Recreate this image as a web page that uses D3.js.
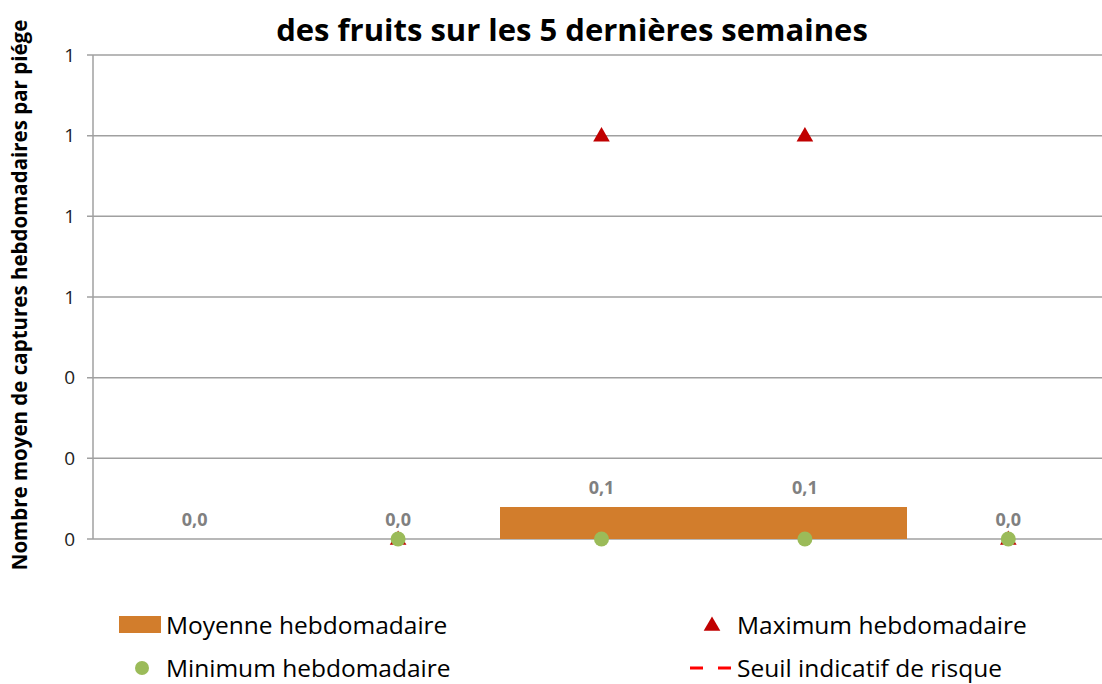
<!DOCTYPE html>
<html>
<head>
<meta charset="utf-8">
<script src="https://cdn.jsdelivr.net/npm/d3@7"></script>
<style>
  body { margin: 0; background: #fff; }
  text { font-family: "Open Sans", "DejaVu Sans", sans-serif; }
</style>
</head>
<body>
<div id="chart"></div>
<script>
// data
var semaines = ["S1", "S2", "S3", "S4", "S5"];
var moyenne = [0, 0, 0.08, 0.08, 0];
var maximum = [null, 0, 1, 1, 0];
var minimum = [null, 0, 0, 0, 0];
var seuil = [null, null, null, null, null];
var yTicks = [0, 0.2, 0.4, 0.6, 0.8, 1.0, 1.2];

var width = 1102;
var height = 684;

var svg = d3.select("#chart")
    .append("svg")
    .attr("width", width)
    .attr("height", height);

var x = d3.scaleBand()
    .domain(semaines)
    .range([93, 1110])
    .padding(0);

var y = d3.scaleLinear()
    .domain([0, 1.2])
    .range([539, 55]);

var fr = d3.formatLocale({decimal: ",", thousands: " ", grouping: [3], currency: ["", "€"]});
var fmt1 = fr.format(".1f");
var fmt0 = fr.format(".0f");

// gridlines
svg.append("g")
    .selectAll("line")
    .data(yTicks)
    .enter()
    .append("line")
    .attr("x1", 87)
    .attr("x2", width)
    .attr("y1", function (d) { return y(d); })
    .attr("y2", function (d) { return y(d); })
    .style("stroke", "#a0a0a0")
    .style("stroke-width", "1.5px");

// y axis line
svg.append("line")
    .attr("x1", 93).attr("x2", 93)
    .attr("y1", y(1.2)).attr("y2", y(0))
    .style("stroke", "#a0a0a0")
    .style("stroke-width", "1.5px");

// tick labels
svg.append("g")
    .selectAll("text")
    .data(yTicks)
    .enter()
    .append("text")
    .attr("x", 75)
    .attr("y", function (d) { return y(d); })
    .attr("dy", "0.35em")
    .attr("text-anchor", "end")
    .attr("font-size", "19px")
    .attr("fill", "#222")
    .text(function (d) { return fmt0(d); });

// bars
svg.append("g")
    .selectAll("rect")
    .data(moyenne)
    .enter()
    .append("rect")
    .attr("x", function (d, i) { return x(semaines[i]); })
    .attr("width", x.bandwidth() + 0.5)
    .attr("y", function (d) { return y(d); })
    .attr("height", function (d) { return y(0) - y(d); })
    .attr("shape-rendering", "crispEdges")
    .style("fill", "#d27d2c");

// bar labels
svg.append("g")
    .selectAll("text")
    .data(moyenne)
    .enter()
    .append("text")
    .attr("x", function (d, i) { return x(semaines[i]) + x.bandwidth() / 2; })
    .attr("y", function (d) { return y(d) - 13; })
    .attr("text-anchor", "middle")
    .attr("font-size", "18px")
    .attr("font-weight", 700)
    .attr("fill", "#808080")
    .text(function (d) { return fmt1(d); });

// max triangles
var tri = d3.symbol().type(d3.symbolTriangle).size(120);
svg.append("g")
    .selectAll("path")
    .data(maximum.map(function (d, i) { return {v: d, k: semaines[i]}; })
        .filter(function (d) { return d.v !== null; }))
    .enter()
    .append("path")
    .attr("d", tri)
    .attr("transform", function (d) {
        return "translate(" + (x(d.k) + x.bandwidth() / 2) + "," + (y(d.v) + 1) + ")";
    })
    .style("fill", "#c00000");

// min dots
svg.append("g")
    .selectAll("circle")
    .data(minimum.map(function (d, i) { return {v: d, k: semaines[i]}; })
        .filter(function (d) { return d.v !== null; }))
    .enter()
    .append("circle")
    .attr("cx", function (d) { return x(d.k) + x.bandwidth() / 2; })
    .attr("cy", function (d) { return y(d.v); })
    .attr("r", 7.5)
    .style("fill", "#9bbb59");

// title
svg.append("text")
    .attr("x", 572)
    .attr("y", 41)
    .attr("text-anchor", "middle")
    .attr("font-size", "31px")
    .attr("font-weight", 700)
    .attr("fill", "#000")
    .text("des fruits sur les 5 dernières semaines");

// y label
svg.append("text")
    .attr("transform", "translate(27, 295) rotate(-90)")
    .attr("text-anchor", "middle")
    .attr("font-size", "20.5px")
    .attr("font-weight", 700)
    .attr("fill", "#000")
    .text("Nombre moyen de captures hebdomadaires par piége");

// legend
var leg = svg.append("g");
leg.append("rect")
    .attr("x", 119).attr("y", 616)
    .attr("width", 42).attr("height", 17)
    .style("fill", "#d27d2c");
leg.append("text")
    .attr("x", 166).attr("y", 625).attr("dy", "0.35em")
    .attr("font-size", "24.5px")
    .text("Moyenne hebdomadaire");

leg.append("circle")
    .attr("cx", 142).attr("cy", 668).attr("r", 7)
    .style("fill", "#9bbb59");
leg.append("text")
    .attr("x", 166).attr("y", 668).attr("dy", "0.35em")
    .attr("font-size", "24.5px")
    .text("Minimum hebdomadaire");

leg.append("path")
    .attr("d", tri)
    .attr("transform", "translate(712,626)")
    .style("fill", "#c00000");
leg.append("text")
    .attr("x", 737).attr("y", 625).attr("dy", "0.35em")
    .attr("font-size", "24.5px")
    .text("Maximum hebdomadaire");

leg.append("line")
    .attr("x1", 690).attr("x2", 732)
    .attr("y1", 668).attr("y2", 668)
    .style("stroke", "#ff0000")
    .style("stroke-width", "3px")
    .style("stroke-dasharray", "13,15");
leg.append("text")
    .attr("x", 737).attr("y", 668).attr("dy", "0.35em")
    .attr("font-size", "24.5px")
    .text("Seuil indicatif de risque");
</script>
</body>
</html>
